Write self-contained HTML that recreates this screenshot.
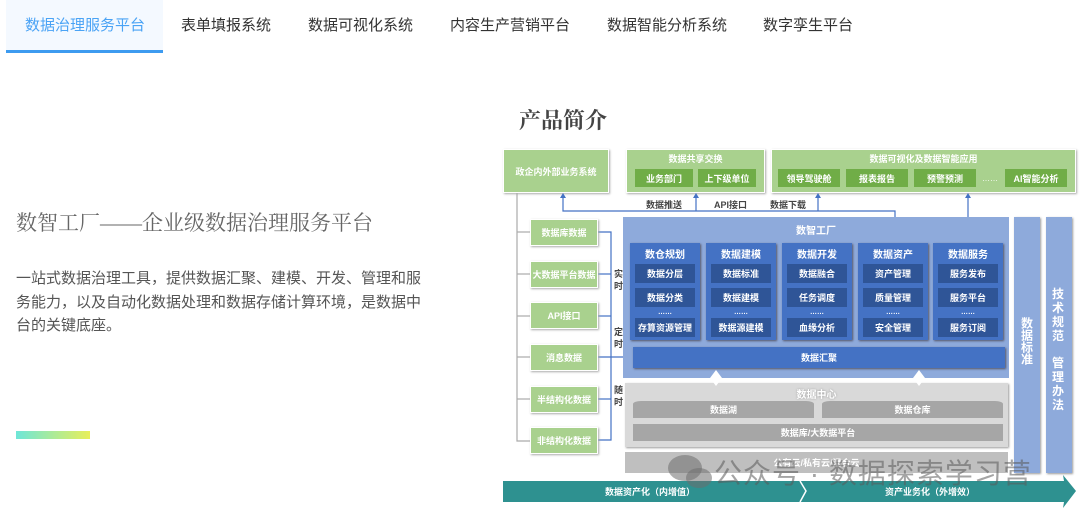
<!DOCTYPE html>
<html><head><meta charset="utf-8"><style>
*{margin:0;padding:0;box-sizing:border-box}
body{width:1080px;height:515px;background:#fff;position:relative;overflow:hidden;font-family:"Liberation Sans","Noto Sans CJK SC",sans-serif}
.a{position:absolute}
.tab{position:absolute;top:0;height:50px;line-height:52px;font-size:15px;color:#333}
.c{display:flex;align-items:center;justify-content:center;text-align:center;position:absolute}
.g{background:#a9d18e;border:1px solid #fff;box-shadow:1px 1px 2px #aaa;color:#fff;font-size:9px;font-weight:bold}
.dg{background:#70ad47;color:#fff;font-size:9px;font-weight:bold}
.col{background:#4472c4;box-shadow:1px 1px 2px #556}
.sub{background:#2f5597;color:#fff;font-size:9px;font-weight:bold}
.w{color:#fff;font-size:9px;font-weight:bold}
.gr{background:#a6a6a6;color:#fff;font-size:9px;font-weight:bold}
.v{background:#8eaadb;color:#fff;font-size:12px;font-weight:bold;writing-mode:vertical-rl;box-shadow:1px 1px 2px #999}
.lbl{position:absolute;font-size:9px;font-weight:bold;color:#444}
</style></head><body>
<div class="a" style="left:6px;top:0;width:157px;height:50px;background:#f4f9ff"></div>
<div class="a" style="left:6px;top:50px;width:157px;height:3px;background:#3d9bf0"></div>
<div class="tab" style="left:25px;color:#4aa3f5">数据治理服务平台</div>
<div class="tab" style="left:181px">表单填报系统</div>
<div class="tab" style="left:308px">数据可视化系统</div>
<div class="tab" style="left:450px">内容生产营销平台</div>
<div class="tab" style="left:607px">数据智能分析系统</div>
<div class="tab" style="left:763px">数字孪生平台</div>

<div class="a" style="left:16px;top:207px;font-size:21px;color:#666;font-family:'Liberation Serif','Noto Serif CJK SC',serif;white-space:nowrap">数智工厂——企业级数据治理服务平台</div>
<div class="a" style="left:16px;top:267px;width:410px;font-size:15px;line-height:23.5px;color:#555">一站式数据治理工具，提供数据汇聚、建模、开发、管理和服务能力，以及自动化数据处理和数据存储计算环境，是数据中台的关键底座。</div>
<div class="a" style="left:16px;top:431px;width:74px;height:8px;background:linear-gradient(90deg,#6ee6d8,#e8ef5a)"></div>

<div class="a" style="left:519px;top:104px;font-size:22px;font-weight:bold;color:#444;font-family:'Noto Serif CJK SC',serif">产品简介</div>

<div class="c g" style="left:503px;top:149px;width:106px;height:44px">政企内外部业务系统</div>
<div class="a g" style="left:626px;top:149px;width:139px;height:44px"></div>
<div class="c w" style="left:626px;top:151px;width:139px;height:14px">数据共享交换</div>
<div class="c dg" style="left:635px;top:169px;width:58px;height:18px">业务部门</div>
<div class="c dg" style="left:698px;top:169px;width:58px;height:18px">上下级单位</div>
<div class="a g" style="left:771px;top:149px;width:305px;height:44px"></div>
<div class="c w" style="left:771px;top:151px;width:305px;height:14px">数据可视化及数据智能应用</div>
<div class="c dg" style="left:778px;top:169px;width:62px;height:18px">领导驾驶舱</div>
<div class="c dg" style="left:846px;top:169px;width:62px;height:18px">报表报告</div>
<div class="c dg" style="left:914px;top:169px;width:62px;height:18px">预警预测</div>
<div class="c" style="left:976px;top:169px;width:28px;height:18px;color:#fff;font-size:8px">……</div>
<div class="c dg" style="left:1005px;top:169px;width:62px;height:18px">AI智能分析</div>

<svg class="a" style="left:0;top:0" width="1080" height="515">
<g stroke="#4472c4" stroke-width="1.2" fill="none">
<polyline points="563,197 563,211 895,211 895,217"/>
<line x1="696" y1="197" x2="696" y2="211"/>
<line x1="818" y1="197" x2="818" y2="211"/>
<line x1="968" y1="197" x2="968" y2="243"/>
<polyline points="598,232 611,232 611,440 598,440"/>
<line x1="598" y1="274" x2="611" y2="274"/>
<line x1="598" y1="316" x2="611" y2="316"/>
<line x1="598" y1="399" x2="611" y2="399"/>
<line x1="598" y1="357" x2="630" y2="357"/>
</g>
<g fill="#4472c4">
<polygon points="563,193 560,198 566,198"/><polygon points="696,193 693,198 699,198"/>
<polygon points="818,193 815,198 821,198"/><polygon points="968,193 965,198 971,198"/>
<polygon points="633,357 628,354 628,360"/>
</g>
<g stroke="#aaa" stroke-width="1.2" fill="none">
<polyline points="517,193 517,441 530,441"/>
<line x1="517" y1="232" x2="530" y2="232"/><line x1="517" y1="274" x2="530" y2="274"/>
<line x1="517" y1="316" x2="530" y2="316"/><line x1="517" y1="357" x2="530" y2="357"/>
<line x1="517" y1="399" x2="530" y2="399"/>
</g>
</svg>
<div class="lbl" style="left:646px;top:198px">数据推送</div>
<div class="lbl" style="left:714px;top:198px">API接口</div>
<div class="lbl" style="left:770px;top:198px">数据下载</div>

<div class="c g" style="left:530px;top:219px;width:68px;height:27px">数据库数据</div>
<div class="c g" style="left:530px;top:261px;width:68px;height:27px">大数据平台数据</div>
<div class="c g" style="left:530px;top:302px;width:68px;height:27px">API接口</div>
<div class="c g" style="left:530px;top:344px;width:68px;height:27px">消息数据</div>
<div class="c g" style="left:530px;top:386px;width:68px;height:27px">半结构化数据</div>
<div class="c g" style="left:530px;top:427px;width:68px;height:27px">非结构化数据</div>
<div class="lbl" style="left:614px;top:268px;width:10px;line-height:12px">实时</div>
<div class="lbl" style="left:614px;top:326px;width:10px;line-height:12px">定时</div>
<div class="lbl" style="left:614px;top:384px;width:10px;line-height:12px">随时</div>

<div class="a" style="left:623px;top:217px;width:386px;height:161px;background:#8eaadb"></div>
<div class="c w" style="left:623px;top:222px;width:386px;height:14px;font-size:10px">数智工厂</div>
<div class="a col" style="left:630px;top:243px;width:70px;height:97px"></div>
<div class="a col" style="left:706px;top:243px;width:70px;height:97px"></div>
<div class="a col" style="left:782px;top:243px;width:70px;height:97px"></div>
<div class="a col" style="left:858px;top:243px;width:70px;height:97px"></div>
<div class="a col" style="left:933px;top:243px;width:70px;height:97px"></div>

<div class="c w" style="left:630px;top:246px;width:70px;height:14px;font-size:10px">数仓规划</div>
<div class="c sub" style="left:635px;top:264px;width:60px;height:19px">数据分层</div>
<div class="c sub" style="left:635px;top:288px;width:60px;height:19px">数据分类</div>
<div class="c w" style="left:630px;top:307px;width:70px;height:10px;font-size:7px">……</div>
<div class="c sub" style="left:635px;top:318px;width:60px;height:19px">存算资源管理</div>

<div class="c w" style="left:706px;top:246px;width:70px;height:14px;font-size:10px">数据建模</div>
<div class="c sub" style="left:711px;top:264px;width:60px;height:19px">数据标准</div>
<div class="c sub" style="left:711px;top:288px;width:60px;height:19px">数据建模</div>
<div class="c w" style="left:706px;top:307px;width:70px;height:10px;font-size:7px">……</div>
<div class="c sub" style="left:711px;top:318px;width:60px;height:19px">数据源建模</div>

<div class="c w" style="left:782px;top:246px;width:70px;height:14px;font-size:10px">数据开发</div>
<div class="c sub" style="left:787px;top:264px;width:60px;height:19px">数据融合</div>
<div class="c sub" style="left:787px;top:288px;width:60px;height:19px">任务调度</div>
<div class="c w" style="left:782px;top:307px;width:70px;height:10px;font-size:7px">……</div>
<div class="c sub" style="left:787px;top:318px;width:60px;height:19px">血缘分析</div>

<div class="c w" style="left:858px;top:246px;width:70px;height:14px;font-size:10px">数据资产</div>
<div class="c sub" style="left:863px;top:264px;width:60px;height:19px">资产管理</div>
<div class="c sub" style="left:863px;top:288px;width:60px;height:19px">质量管理</div>
<div class="c w" style="left:858px;top:307px;width:70px;height:10px;font-size:7px">……</div>
<div class="c sub" style="left:863px;top:318px;width:60px;height:19px">安全管理</div>

<div class="c w" style="left:933px;top:246px;width:70px;height:14px;font-size:10px">数据服务</div>
<div class="c sub" style="left:938px;top:264px;width:60px;height:19px">服务发布</div>
<div class="c sub" style="left:938px;top:288px;width:60px;height:19px">服务平台</div>
<div class="c w" style="left:933px;top:307px;width:70px;height:10px;font-size:7px">……</div>
<div class="c sub" style="left:938px;top:318px;width:60px;height:19px">服务订阅</div>

<div class="c w" style="left:633px;top:347px;width:372px;height:21px;background:#4472c4;box-shadow:1px 1px 2px #556">数据汇聚</div>

<div class="a" style="left:625px;top:383px;width:383px;height:64px;background:#d9d9d9;box-shadow:1px 1px 2px #999"></div>
<svg class="a" style="left:0;top:0" width="1080" height="515"><g fill="#fff"><polygon points="716,370 722,378 716,386 710,378"/><polygon points="919,370 925,378 919,386 913,378"/></g></svg>
<div class="c w" style="left:625px;top:386px;width:383px;height:14px;font-size:10px;color:#fff;text-shadow:0 0 2px #999">数据中心</div>
<div class="c gr" style="left:633px;top:401px;width:181px;height:17px;border-radius:8px 8px 0 0/3px 3px 0 0">数据湖</div>
<div class="c gr" style="left:822px;top:401px;width:181px;height:17px;border-radius:8px 8px 0 0/3px 3px 0 0">数据仓库</div>
<div class="c gr" style="left:633px;top:424px;width:370px;height:17px">数据库/大数据平台</div>
<div class="c gr" style="left:625px;top:452px;width:383px;height:21px;background:#bfbfbf">公有云/私有云/混合云</div>

<div class="c v" style="left:1014px;top:217px;width:26px;height:256px;justify-content:flex-start;padding-top:100px">数据标准</div>
<div class="a v" style="left:1046px;top:217px;width:26px;height:256px"></div>
<div class="a" style="left:1052px;top:287px;width:14px;font-size:12px;font-weight:bold;color:#fff;line-height:14px">技术规范</div>
<div class="a" style="left:1052px;top:356px;width:14px;font-size:12px;font-weight:bold;color:#fff;line-height:14px">管理办法</div>

<svg class="a" style="left:0;top:0" width="1080" height="515">
<polygon points="503,481 800,481 806,491 800,502 503,502" fill="#2e9190"/>
<polygon points="800,481 1064,481 1063,475 1076,491 1063,508 1064,502 800,502 806,491" fill="#2e9190"/>
<polyline points="800,481 806,491 800,502" stroke="#fff" stroke-width="1.5" fill="none"/>
</svg>
<div class="c w" style="left:560px;top:481px;width:180px;height:21px">数据资产化（内增值）</div>
<div class="c w" style="left:840px;top:481px;width:180px;height:21px">资产业务化（外增效）</div>

<div class="a" style="left:668px;top:455px;width:34px;height:26px;border-radius:50%;background:rgba(110,110,110,.55)"></div>
<div class="a" style="left:686px;top:468px;width:26px;height:20px;border-radius:50%;background:rgba(110,110,110,.55)"></div>
<div class="a" style="left:714px;top:452px;font-size:28px;color:rgba(90,90,90,.55);white-space:nowrap;letter-spacing:1px">公众号 · 数据探索学习营</div>
</body></html>
